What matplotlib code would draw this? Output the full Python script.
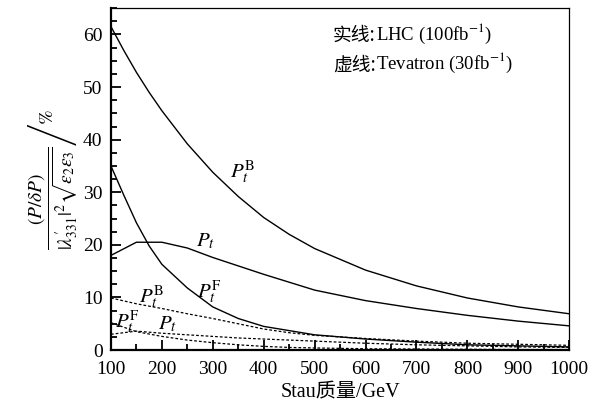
import matplotlib
matplotlib.use("Agg")
import matplotlib.pyplot as plt
from matplotlib.ticker import MultipleLocator

plt.rcParams["font.family"] = ["Liberation Serif", "Noto Sans CJK SC"]
plt.rcParams["mathtext.fontset"] = "stix"

# LHC (solid)
x_lhc_b = [100, 125, 150, 175, 200, 250, 300, 350, 400, 450, 500, 600, 700, 800, 900, 1000]
lhc_pb = [61.5, 57.0, 52.8, 49.0, 45.5, 39.2, 33.8, 29.2, 25.2, 22.0, 19.3, 15.2, 12.2, 9.9, 8.2, 6.9]

x_lhc_t = [100, 150, 200, 250, 300, 350, 400, 500, 600, 700, 800, 900, 1000]
lhc_pt = [18.0, 20.5, 20.5, 19.4, 17.6, 16.0, 14.4, 11.4, 9.4, 7.9, 6.6, 5.5, 4.6]

x_lhc_f = [100, 125, 150, 175, 200, 250, 300, 350, 400, 500, 600, 700, 800, 900, 1000]
lhc_pf = [35.0, 29.5, 24.2, 19.8, 16.3, 11.8, 8.2, 6.0, 4.5, 2.9, 2.1, 1.5, 1.0, 0.8, 0.6]

# Tevatron (dashed)
x_tev = [100, 150, 200, 250, 300, 350, 400, 450, 500, 600, 700, 800, 900, 1000]
tev_pb = [9.9, 8.8, 7.9, 6.9, 6.0, 5.0, 4.0, 3.3, 2.8, 2.2, 1.7, 1.3, 1.1, 0.9]
tev_pt = [3.0, 3.6, 3.2, 2.9, 2.6, 2.3, 2.1, 1.9, 1.7, 1.3, 1.0, 0.8, 0.6, 0.5]
tev_pf = [5.2, 3.5, 2.6, 1.9, 1.4, 1.0, 0.7, 0.5, 0.4, 0.25, 0.2, 0.15, 0.1, 0.1]

fig = plt.figure(figsize=(6.03, 4.08), dpi=100)
ax = fig.add_axes([0.184, 0.142, 0.76, 0.838])

ax.plot(x_lhc_b, lhc_pb, color="black", lw=1.0)
ax.plot(x_lhc_t, lhc_pt, color="black", lw=1.0)
ax.plot(x_lhc_f, lhc_pf, color="black", lw=1.0)
for ys in (tev_pb, tev_pt, tev_pf):
    ax.plot(x_tev, ys, color="black", lw=0.9, ls=(0, (2.2, 1.6)))

lab = dict(fontsize=15, ha="center", va="center")
ax.text(359, 34.0, r"$P_t^{\rm B}$", **lab)
ax.text(285, 20.6, r"$P_t$", **lab)
ax.text(294, 11.2, r"$P_t^{\rm F}$", **lab)
ax.text(181, 10.2, r"$P_t^{\rm B}$", **lab)
ax.text(133, 5.4, r"$P_t^{\rm F}$", **lab)
ax.text(212, 4.9, r"$P_t$", **lab)

# legend-like notes: CJK part and math part drawn as separate texts
t1 = ax.text(0.484, 0.903, "实线:", transform=ax.transAxes, fontsize=13.5,
             family="Noto Sans CJK SC", va="baseline")
ax.annotate("LHC (100fb$^{-1}$)", xy=(1, 0), xycoords=t1, fontsize=13.5, va="bottom",
            xytext=(0, 0.5), textcoords="offset points")
t2 = ax.text(0.484, 0.818, "虚线:", transform=ax.transAxes, fontsize=13.5,
             family="Noto Sans CJK SC", va="baseline")
ax.annotate("Tevatron (30fb$^{-1}$)", xy=(1, 0), xycoords=t2, fontsize=13.5, va="bottom",
            xytext=(0, 0.5), textcoords="offset points")

ax.set_xlim(100, 1000)
ax.set_ylim(0, 65)
ax.xaxis.set_major_locator(MultipleLocator(100))
ax.xaxis.set_minor_locator(MultipleLocator(50))
ax.yaxis.set_major_locator(MultipleLocator(10))
ax.yaxis.set_minor_locator(MultipleLocator(2.5))
ax.tick_params(which="both", direction="in", top=False, right=False, labelsize=14, width=1.3)
ax.tick_params(which="major", length=7)
ax.tick_params(axis="x", which="major", pad=8)
ax.tick_params(axis="y", which="major", pad=6)
ax.tick_params(which="minor", length=4)
for s in ("left", "bottom"):
    ax.spines[s].set_linewidth(1.6)
for s in ("top", "right"):
    ax.spines[s].set_linewidth(0.9)

ax.set_xlabel("Stau质量/GeV", fontsize=14.5, labelpad=4)
ax.set_ylabel(r"$\left.\dfrac{(P/\delta P)}{|\lambda^{\prime}_{331}|^2\sqrt{\varepsilon_2\varepsilon_3}}\right/\%$",
              fontsize=14, labelpad=2)

fig.savefig("out.png", dpi=100)
